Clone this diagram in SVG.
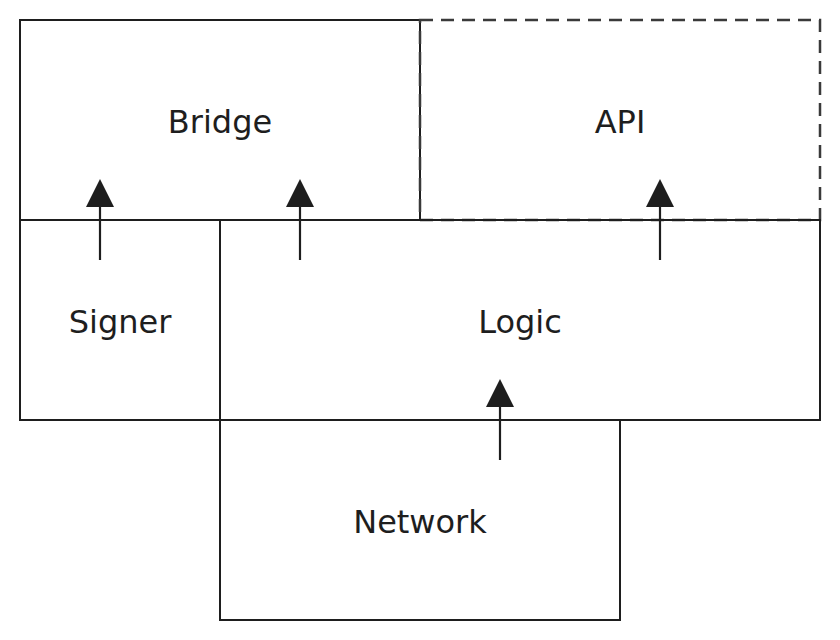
<svg xmlns="http://www.w3.org/2000/svg" width="840" height="640" viewBox="0 0 840 640">
<style>
.box{fill:none;stroke:#1e1e1e;stroke-width:2}
.dash{fill:none;stroke:#3a3a3a;stroke-width:2.5;stroke-dasharray:13 8}
.lbl{font-family:"DejaVu Sans",sans-serif;font-size:32px;fill:#1e1e1e;text-anchor:middle}
</style>
<rect width="840" height="640" fill="#ffffff"/>
<g id="bridge"><rect class="box" x="20" y="20" width="400" height="200"/><text class="lbl" x="220" y="133">Bridge</text></g>
<g id="api"><rect class="dash" x="420" y="20" width="400" height="200"/><text class="lbl" x="620" y="133">API</text></g>
<g id="signer"><rect class="box" x="20" y="220" width="200" height="200"/><text class="lbl" x="120" y="333">Signer</text></g>
<g id="logic"><rect class="box" x="220" y="220" width="600" height="200"/><text class="lbl" x="520" y="333">Logic</text></g>
<g id="network"><rect class="box" x="220" y="420" width="400" height="200"/><text class="lbl" x="420" y="533">Network</text></g>
<g id="connectors" fill="#1e1e1e" stroke="#1e1e1e" stroke-width="2.2">
<line x1="100" y1="260" x2="100" y2="205"/><polygon points="100,179 86,207 114,207" stroke="none"/>
<line x1="300" y1="260" x2="300" y2="205"/><polygon points="300,179 286,207 314,207" stroke="none"/>
<line x1="660" y1="260" x2="660" y2="205"/><polygon points="660,179 646,207 674,207" stroke="none"/>
<line x1="500" y1="460" x2="500" y2="405"/><polygon points="500,379 486,407 514,407" stroke="none"/>
</g>
</svg>
